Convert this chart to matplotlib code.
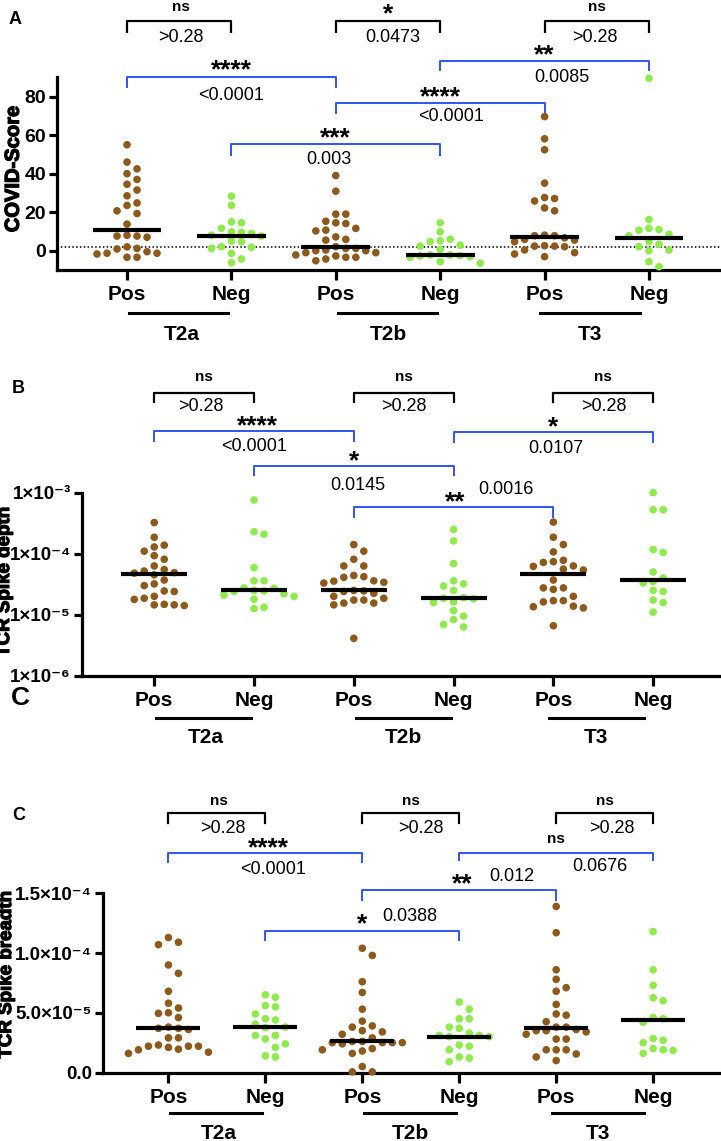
import numpy as np
import matplotlib
matplotlib.use('Agg')
import matplotlib.pyplot as plt
import matplotlib.transforms as mtransforms
import matplotlib.patheffects as pe
from matplotlib.ticker import NullLocator
from matplotlib import font_manager as fm

plt.rcParams['font.family'] = ['Liberation Sans', 'DejaVu Sans']
BOLD_FILE = fm.findfont(fm.FontProperties(family='Liberation Sans', weight='bold'))


def bold(size):
    return fm.FontProperties(fname=BOLD_FILE, size=size)


# ---- data ----
groups = ['Pos', 'Neg', 'Pos', 'Neg', 'Pos', 'Neg']
timepoints = ['T2a', 'T2b', 'T3']

# A: COVID-Score
a_t2a_pos = [55, 46, 42.5, 40, 37, 34.5, 31.5, 28.5, 24.8, 23.5, 20.7, 19.3, 13.8, 8, 7.6, 7, 7.6,
             2, -1.3, 0.9, -1.7, -0.5, 1.2, -3.4, -1.3, -3.4]
a_t2a_neg = [28.3, 23.6, 14.5, 15, 11.6, 9.8, 8.1, 9.5, 9, 7.6, 5, 4.7, 1.8, 2.1, 1.2, -1.4, -4.3, -6.2]
a_t2b_pos = [39, 30.9, 19, 19, 15.3, 14.5, 14.1, 10.3, 10.7, 11.6, 5.9, 7.2, 5.5, 1.2, 0, -2.2, -1, 0,
             1.2, -1, 2.1, 0.4, -3.4, -5.2, -3.4, -2.7, -4.3]
a_t2b_neg = [14.5, 9.8, 6, 5.2, 4.7, 2.9, 2.4, 0.7, -2.2, -2.2, -2.5, -2.7, -3.1, -3.4, -5.7, -6.5]
a_t3_pos = [69.6, 58.1, 52.4, 35.1, 25.8, 27.1, 27.6, 22.2, 20.7, 5.5, 6.7, 7.8, 5.9, 4.7, 7.8, 8.1,
            2.4, 2.4, 2.6, 2.1, -1.7, -1, 0.4, -3.1]
a_t3_neg = [89.5, 16.2, 10.7, 11, 11.6, 8.5, 7.8, 4.7, 3.3, 2.1, 0.4, 0, -5.7, -8.3]
a_medians = [11, 7.9, 2.1, -2.2, 7.2, 6.4]
a_ticklabels = ['0', '20', '40', '60', '80']

# B: TCR Spike depth (units of 1e-5)
b_t2a_pos = [32.4, 18.6, 13.8, 12.9, 11.0, 9.3, 8.1, 6.3, 4.5, 4.9, 4.8, 5.2, 5.5, 3.7, 3.2, 3.0,
             2.4, 2.45, 1.86, 2.0, 1.78, 1.45, 1.45, 1.41, 1.48]
b_t2a_neg = [76, 22.9, 20.9, 5.9, 3.6, 3.6, 2.75, 2.7, 2.4, 2.45, 2.5, 2.1, 2.2, 2.0, 1.8, 1.26, 1.32]
b_t2b_pos = [14.1, 11.0, 8.1, 6.3, 6.3, 4.2, 4.4, 4.1, 3.3, 3.55, 3.4, 3.6, 2.4, 2.45, 2.5, 2.24,
             2.0, 1.74, 1.55, 1.45, 1.55, 1.74, 1.86, 0.41]
b_t2b_neg = [25.1, 16.2, 6.9, 3.2, 3.6, 2.95, 2.5, 1.82, 1.9, 1.58, 1.62, 1.86, 1.17, 0.95, 0.83,
             0.63, 0.69]
b_t3_pos = [33, 18.6, 14.1, 10.7, 6.3, 7.2, 7.4, 7.8, 6.2, 5.4, 5.6, 3.7, 2.6, 2.75, 2.75, 1.7,
            1.62, 2.0, 1.7, 1.35, 1.38, 1.29, 0.66]
b_t3_neg = [100, 52.5, 52.5, 10.5, 11.7, 5.0, 4.0, 3.5, 3.3, 2.5, 2.4, 1.74, 1.58, 1.1]
b_medians = [4.6, 2.5, 2.5, 1.86, 4.7, 3.7]
b_ticklabels = ['1×10⁻⁶', '1×10⁻⁵', '1×10⁻⁴', '1×10⁻³']

# C: TCR Spike breadth (units of 1e-5)
c_t2a_pos = [11.3, 10.9, 10.7, 9.0, 8.3, 6.8, 5.8, 5.4, 5.0, 4.95, 4.6, 3.7, 3.8, 3.6, 3.7, 2.9,
             2.9, 1.9, 2.2, 1.95, 2.2, 2.2, 2.1, 2.3, 1.6, 1.7]
c_t2a_neg = [6.5, 6.3, 5.6, 5.5, 4.9, 4.5, 4.4, 4.05, 3.75, 3.8, 2.8, 3.1, 3.1, 2.4, 2.1, 1.3, 1.4]
c_t2b_pos = [10.4, 9.8, 7.6, 6.7, 5.3, 4.3, 3.9, 3.8, 3.4, 3.5, 3.2, 2.9, 2.6, 2.5, 2.5, 2.5, 2.4,
             2.6, 2.5, 2.0, 1.9, 1.8, 1.6, 0.5, 0.05, 0.05]
c_t2b_neg = [5.9, 5.3, 4.5, 4.5, 3.7, 3.8, 3.0, 3.1, 3.3, 3.1, 3.0, 2.3, 1.9, 2.2, 1.2, 1.3, 0.9]
c_t3_pos = [13.9, 11.7, 8.6, 7.8, 6.8, 7.1, 5.7, 4.8, 4.9, 4.25, 3.8, 3.8, 3.5, 3.6, 3.2, 3.5, 3.4,
            2.8, 2.8, 1.9, 1.9, 1.9, 1.55, 1.3, 1.0]
c_t3_neg = [11.8, 8.6, 7.3, 6.0, 6.25, 4.6, 4.5, 4.2, 2.85, 2.7, 2.5, 1.6, 2.0, 1.85, 1.9]
c_medians = [3.7, 3.8, 2.6, 2.95, 3.7, 4.4]
c_ticklabels = ['0.0', '5.0×10⁻⁵', '1.0×10⁻⁴', '1.5×10⁻⁴']

# significance annotations: (x1, x2, stars, star_x, p text, p_x)
a_tests = [(0, 1, 'ns', 0.52, '>0.28', 0.52), (2, 3, '*', 2.5, '0.0473', 2.55),
           (4, 5, 'ns', 4.5, '>0.28', 4.48),
           (0, 2, '****', 1.0, '<0.0001', 1.0), (2, 4, '****', 3.0, '<0.0001', 3.1),
           (1, 3, '***', 2.0, '0.003', 1.93), (3, 5, '**', 4.0, '0.0085', 4.17)]
b_tests = [(0, 1, 'ns', 0.5, '>0.28', 0.47), (2, 3, 'ns', 2.5, '>0.28', 2.5),
           (4, 5, 'ns', 4.5, '>0.28', 4.51),
           (0, 2, '****', 1.03, '<0.0001', 1.0), (1, 3, '*', 2.0, '0.0145', 2.04),
           (3, 5, '*', 4.0, '0.0107', 4.02), (2, 4, '**', 3.02, '0.0016', 3.52)]
c_tests = [(0, 1, 'ns', 0.52, '>0.28', 0.56), (2, 3, 'ns', 2.5, '>0.28', 2.6),
           (4, 5, 'ns', 4.5, '>0.28', 4.57),
           (0, 2, '****', 1.03, '<0.0001', 1.08), (3, 5, 'ns', 4.0, '0.0676', 4.45),
           (2, 4, '**', 3.03, '0.012', 3.54), (1, 3, '*', 2.0, '0.0388', 2.49)]

# layout of the annotations in axes fraction: (line y, drop, stars y, p y)
a_levels = [(1.294, 0.057, 1.365, 1.209)] * 3 + [(1.0, 0.05, 1.074, 0.908), (0.867, 0.052, 0.934, 0.799),
                                                  (0.654, 0.057, 0.721, 0.576), (1.085, 0.047, 1.152, 1.0)]
b_levels = [(1.543, 0.046, 1.632, 1.470)] * 3 + [(1.337, 0.054, 1.403, 1.255), (1.146, 0.049, 1.211, 1.037),
                                                  (1.333, 0.054, 1.397, 1.239), (0.923, 0.054, 0.987, 1.020)]
c_levels = [(1.446, 0.055, 1.517, 1.363)] * 3 + [(1.223, 0.047, 1.292, 1.134), (1.227, 0.041, 1.303, 1.147),
                                                  (1.018, 0.055, 1.091, 1.093), (0.791, 0.052, 0.868, 0.873)]

BROWN = '#8E5A1C'
GREEN = '#8FEB4C'
BLUE = '#2F55F0'
colors = [BROWN, GREEN] * 3

W, H = 721, 1141
fig = plt.figure(figsize=(W / 100, H / 100), dpi=100)


def px_rect(left, top, right, bottom):
    return [left / W, 1 - bottom / H, (right - left) / W, (bottom - top) / H]


def swarm_x(ax, x0, vals, step=10.0, dyc=8.5):
    # GraphPad-like scatter: points closer than dyc px vertically are set side by side
    pts = ax.transData.transform(np.column_stack([np.full(len(vals), x0), vals]))
    xc = pts[0, 0]
    ys = pts[:, 1]
    order = np.argsort(-ys)
    placed = []
    off = np.zeros(len(vals))
    cands = [0] + [s * m for m in range(1, 15) for s in (1, -1)]
    for i in order:
        for c in cands:
            xd = c * step
            if all(abs(xd - px) >= step * 0.99 or abs(ys[i] - py) >= dyc for px, py in placed):
                break
        placed.append((xd, ys[i]))
        off[i] = xd
    back = ax.transData.inverted().transform(np.column_stack([xc + off, ys]))
    return back[:, 0]


def setup(ax, xlim):
    ax.set_xlim(*xlim)
    for s in ['top', 'right']:
        ax.spines[s].set_visible(False)
    for s in ['left', 'bottom']:
        ax.spines[s].set_linewidth(2.3)
    ax.set_xticks(range(6))
    ax.set_xticklabels(groups, fontproperties=bold(15))
    ax.tick_params(axis='x', length=7, width=2.3, pad=4)
    ax.tick_params(axis='y', length=6, width=2.3, pad=2)


def draw_points(ax, data, medians, scale=1.0):
    for i, vals in enumerate(data):
        v = np.array(vals) * scale
        xs = swarm_x(ax, i, v)
        ax.scatter(xs, v, s=30, color=colors[i], edgecolors='none', zorder=3, clip_on=False)
        ax.plot([i - 0.33, i + 0.33], [medians[i] * scale] * 2, color='k', lw=3, zorder=4,
                solid_capstyle='butt')


def annotate(ax, tests, levels):
    tr = ax.get_xaxis_transform()
    for (x1, x2, stars, sx, ptxt, ptx), (ly, dr, sy, py) in zip(tests, levels):
        col = 'k' if x2 - x1 == 1 else BLUE
        ax.plot([x1, x1, x2, x2], [ly - dr, ly, ly, ly - dr], transform=tr, color=col,
                lw=1.6 if col == 'k' else 1.4, clip_on=False)
        if stars == 'ns':
            ax.text(sx, sy, 'ns', transform=tr, ha='center', va='center', fontproperties=bold(11))
        else:
            st = mtransforms.offset_copy(tr, fig=fig, y=-5, units='points')
            ax.text(sx, sy, stars, transform=st, ha='center', va='center', fontproperties=bold(19))
        ax.text(ptx, py, ptxt, transform=tr, ha='center', va='center', fontsize=13)


def group_labels(ax, line_y, text_y):
    tr = ax.get_xaxis_transform()
    spans = [(0.02, 0.97), (2.02, 2.97), (3.96, 4.91)]
    for (x1, x2), tp, tx in zip(spans, timepoints, [0.52, 2.5, 4.43]):
        ax.plot([x1, x2], [line_y, line_y], transform=tr, color='k', lw=2.2, clip_on=False)
        ax.text(tx, text_y, tp, transform=tr, ha='center', va='center', fontproperties=bold(15))


def ylab(ax, text, x, y, fs):
    ax.set_ylabel(text, fontproperties=bold(fs))
    ax.yaxis.label.set_path_effects([pe.withStroke(linewidth=0.9, foreground='black')])
    ax.yaxis.set_label_coords(x, y)


# ---- Panel A ----
axA = fig.add_axes(px_rect(57.3, 77.3, 721, 270))
setup(axA, (-0.668, 5.69))
axA.set_ylim(-10, 90)
axA.set_yticks([0, 20, 40, 60, 80])
axA.set_yticklabels(a_ticklabels, fontproperties=bold(14))
axA.axhline(2, color='k', lw=1.1, ls=(0, (1, 1.5)), zorder=2)
draw_points(axA, [a_t2a_pos, a_t2a_neg, a_t2b_pos, a_t2b_neg, a_t3_pos, a_t3_neg], a_medians)
annotate(axA, a_tests, a_levels)
group_labels(axA, -0.223, -0.337)
ylab(axA, 'COVID-Score', -0.052, 0.524, 14.5)

# ---- Panel B ----
axB = fig.add_axes(px_rect(82, 492.7, 721, 675.7))
setup(axB, (-0.724, 5.68))
axB.set_yscale('log')
axB.set_ylim(1e-6, 1e-3)
axB.set_yticks([1e-6, 1e-5, 1e-4, 1e-3])
axB.set_yticklabels(b_ticklabels, family=['Liberation Sans', 'DejaVu Sans'], fontweight='bold',
                    fontsize=13.5)
axB.yaxis.set_minor_locator(NullLocator())
draw_points(axB, [b_t2a_pos, b_t2a_neg, b_t2b_pos, b_t2b_neg, b_t3_pos, b_t3_neg], b_medians, 1e-5)
annotate(axB, b_tests, b_levels)
group_labels(axB, -0.231, -0.335)
ylab(axB, 'TCR Spike depth', -0.108, 0.512, 13.5)

# ---- Panel C ----
axC = fig.add_axes(px_rect(103.3, 893.3, 721, 1072.5))
setup(axC, (-0.672, 5.70))
axC.set_ylim(0, 1.5e-4)
axC.set_yticks([0, 5e-5, 1e-4, 1.5e-4])
axC.set_yticklabels(c_ticklabels, family=['Liberation Sans', 'DejaVu Sans'], fontweight='bold',
                    fontsize=13.5)
draw_points(axC, [c_t2a_pos, c_t2a_neg, c_t2b_pos, c_t2b_neg, c_t3_pos, c_t3_neg], c_medians, 1e-5)
annotate(axC, c_tests, c_levels)
group_labels(axC, -0.228, -0.338)
ylab(axC, 'TCR Spike breadth', -0.143, 0.544, 13.5)

# panel letters
for x, y, letter, fs in [(15, 20, 'A', 13), (18, 388, 'B', 13), (19, 815, 'C', 13), (20, 698, 'C', 19)]:
    fig.text(x / W, 1 - y / H, letter, ha='center', va='center', fontproperties=bold(fs))

fig.savefig('out.png', dpi=100, facecolor='white')
